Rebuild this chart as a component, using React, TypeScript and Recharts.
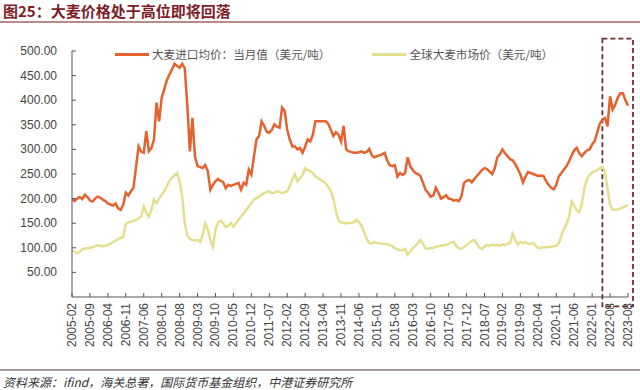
import React from 'react';
import { LineChart, Line, XAxis, YAxis, ReferenceArea } from 'recharts';

const ORANGE = '#E5622F';
const YELLOW = '#E4DF8F';
const AXIS = '#555';
const FONT_CJK = '"Noto Sans CJK SC", "Noto Sans", sans-serif';
const FONT_NUM = '"Liberation Sans", Arial, sans-serif';

// months: 2005-02 .. 2022-08 monthly, then 2023-02 .. 2023-08
const months: string[] = [];
for (let y = 2005; y <= 2023; y++) {
  const from = y === 2005 || y === 2023 ? 2 : 1;
  const to = y >= 2022 ? 8 : 12;
  for (let m = from; m <= to; m++) months.push(`${y}-${String(m).padStart(2, '0')}`);
}

// 大麦进口均价：当月值（美元/吨）
const importPrice = [
  199, 195, 200, 203, 199, 208, 203, 196, 194, 200, 204,
  202, 198, 195, 190, 188, 186, 190, 180, 177, 188, 212, 206,
  215, 222, 265, 306, 295, 293, 337, 296, 303, 320, 395, 357,
  405, 422, 440, 452, 462, 474, 470, 466, 474, 465, 390, 296,
  364, 285, 266, 264, 262, 268, 256, 218, 228, 235, 240, 236,
  234, 221, 228, 226, 228, 230, 232, 218, 232, 228, 259, 249,
  285, 320, 327, 357, 348, 336, 334, 340, 351, 346, 344, 385,
  378, 340, 320, 306, 306, 300, 303, 293, 306, 320, 316, 330,
  357, 357, 357, 357, 357, 352, 340, 327, 335, 330, 316, 348,
  300, 296, 295, 293, 293, 294, 296, 293, 295, 301, 288, 284,
  286, 288, 290, 293, 278, 268, 266, 268, 245, 252, 248, 252,
  284, 266, 258, 252, 250, 246, 232, 218, 212, 204, 206, 222,
  212, 200, 203, 207, 200, 199, 196, 197, 195, 205, 232, 236,
  238, 233, 240, 246, 252, 258, 262, 260, 255, 250, 262, 284,
  290, 300, 292, 286, 280, 278, 270, 260, 249, 233, 245, 254,
  252, 250, 248, 246, 247, 246, 236, 228, 222, 219, 228, 245,
  252, 259, 266, 276, 288, 298, 303, 292, 286, 293, 298, 300,
  310, 317, 335, 352, 360, 364, 347, 408,
  381, 391, 405, 414, 414, 400, 389,
];

// 全球大麦市场价（美元/吨）
const globalPrice = [
  95, 92, 89, 92, 97, 98, 99, 100, 101, 103, 105,
  104, 103, 104, 106, 108, 112, 114, 118, 120, 122, 148, 152,
  153, 155, 157, 160, 163, 184, 172, 163, 177, 198, 191, 200,
  208, 215, 225, 236, 242, 247, 252, 235, 205, 150, 125, 118,
  116, 115, 116, 112, 126, 150, 138, 116, 102, 136, 152, 155,
  150, 142, 145, 150, 143, 150, 157, 163, 170, 177, 184, 191,
  198, 201, 204, 208, 211, 213, 215, 211, 212, 215, 213, 211,
  213, 215, 225, 240, 249, 235, 242, 248, 262, 258, 256, 252,
  245, 242, 238, 235, 231, 224, 216, 200, 175, 155, 152, 150,
  150, 150, 151, 152, 157, 152, 145, 132, 118, 110, 109, 111,
  110, 109, 108, 108, 107, 106, 103, 99, 97, 95, 95, 98,
  86, 92, 99, 104, 109, 116, 108, 99, 98, 99, 100, 102,
  103, 104, 105, 106, 108, 111, 112, 104, 99, 98, 101, 106,
  110, 114, 116, 108, 100, 98, 102, 106, 104, 107, 105, 106,
  104, 107, 106, 108, 110, 128, 116, 106, 112, 110, 111, 108,
  108, 110, 104, 99, 100, 101, 101, 101, 102, 103, 104, 109,
  125, 138, 148, 163, 194, 186, 176, 172, 190, 222, 240, 248,
  253, 256, 258, 262, 264, 255, 220, 188,
  177, 178, 178, 180, 182, 184, 187,
];

const yTicks = [50, 100, 150, 200, 250, 300, 350, 400, 450, 500];

const data = months.map((m, i) => ({ month: m, imp: importPrice[i], glob: globalPrice[i] }));

const XTick = ({ x, y, payload }: any) => (
  <g>
    <line x1={x} y1={y} x2={x} y2={y - 4} stroke={AXIS} />
    <text
      x={x}
      y={y + 6}
      transform={`rotate(-90 ${x} ${y + 6})`}
      textAnchor="end"
      dominantBaseline="central"
      fontSize={12}
      fontFamily={FONT_NUM}
      fill="#444"
    >
      {payload.value}
    </text>
  </g>
);

const YTick = ({ x, y, payload }: any) => (
  <g>
    <line x1={x} y1={y} x2={x + 4} y2={y} stroke={AXIS} />
    <text x={x - 15} y={y} textAnchor="end" dominantBaseline="central" fontSize={12} fontFamily={FONT_NUM} fill="#444">
      {Number(payload.value).toFixed(2)}
    </text>
  </g>
);

const DashedBox = (p: any) => (
  <rect x={p.x} y={p.y} width={p.width + 5} height={p.height} fill="none" stroke="#6b2d2d" strokeWidth={1.8} strokeDasharray="5 3" />
);

const LegendItem = ({ color, label }: { color: string; label: string }) => (
  <div style={{ display: 'flex', alignItems: 'center' }}>
    <div style={{ width: 34, height: 3, background: color, marginRight: 3 }} />
    <span>{label}</span>
  </div>
);

export default function App() {
  return (
    <div style={{ position: 'absolute', left: 0, top: 0, width: 640, height: 390, background: '#fff', overflow: 'hidden' }}>
      <div style={{ position: 'absolute', left: 3, top: 2, fontFamily: FONT_CJK, fontWeight: 700, fontSize: 15, color: '#7e1c28', lineHeight: '18px' }}>
        图25：大麦价格处于高位即将回落
      </div>
      <div style={{ position: 'absolute', left: 0, top: 21, width: 640, height: 1.5, background: '#b98a8a' }} />

      <LineChart width={640} height={390} data={data} margin={{ top: 51, right: 12, bottom: 0, left: 12 }} style={{ position: 'absolute', left: 0, top: 0 }}>
        <XAxis
          dataKey="month"
          interval={6}
          height={93}
          tickSize={0}
          tickMargin={0}
          tick={<XTick />}
          axisLine={{ stroke: AXIS }}
          tickLine={false}
        />
        <YAxis
          domain={[0, 500]}
          ticks={yTicks}
          width={60}
          tickSize={0}
          tickMargin={0}
          tick={<YTick />}
          axisLine={{ stroke: AXIS }}
          tickLine={false}
        />
        <Line type="linear" dataKey="glob" stroke={YELLOW} strokeWidth={2.5} dot={false} isAnimationActive={false} />
        <Line type="linear" dataKey="imp" stroke={ORANGE} strokeWidth={2.5} dot={false} isAnimationActive={false} />
        <ReferenceArea x1="2022-05" x2="2023-08" y1={-19} y2={525} ifOverflow="visible" shape={<DashedBox />} />
      </LineChart>

      <div style={{ position: 'absolute', left: 115, top: 45, display: 'flex', gap: 42, fontFamily: FONT_CJK, fontSize: 11.6, color: '#555', lineHeight: '18px' }}>
        <LegendItem color={ORANGE} label="大麦进口均价：当月值（美元/吨）" />
        <LegendItem color={YELLOW} label="全球大麦市场价（美元/吨）" />
      </div>

      <div style={{ position: 'absolute', left: 0, top: 369, width: 640, height: 1.5, background: '#a89a94' }} />
      <div style={{ position: 'absolute', left: 3, top: 374, fontFamily: FONT_CJK, fontStyle: 'italic', fontSize: 12, color: '#333', lineHeight: '16px' }}>
        资料来源：ifind，海关总署，国际货币基金组织，中港证券研究所
      </div>
    </div>
  );
}
